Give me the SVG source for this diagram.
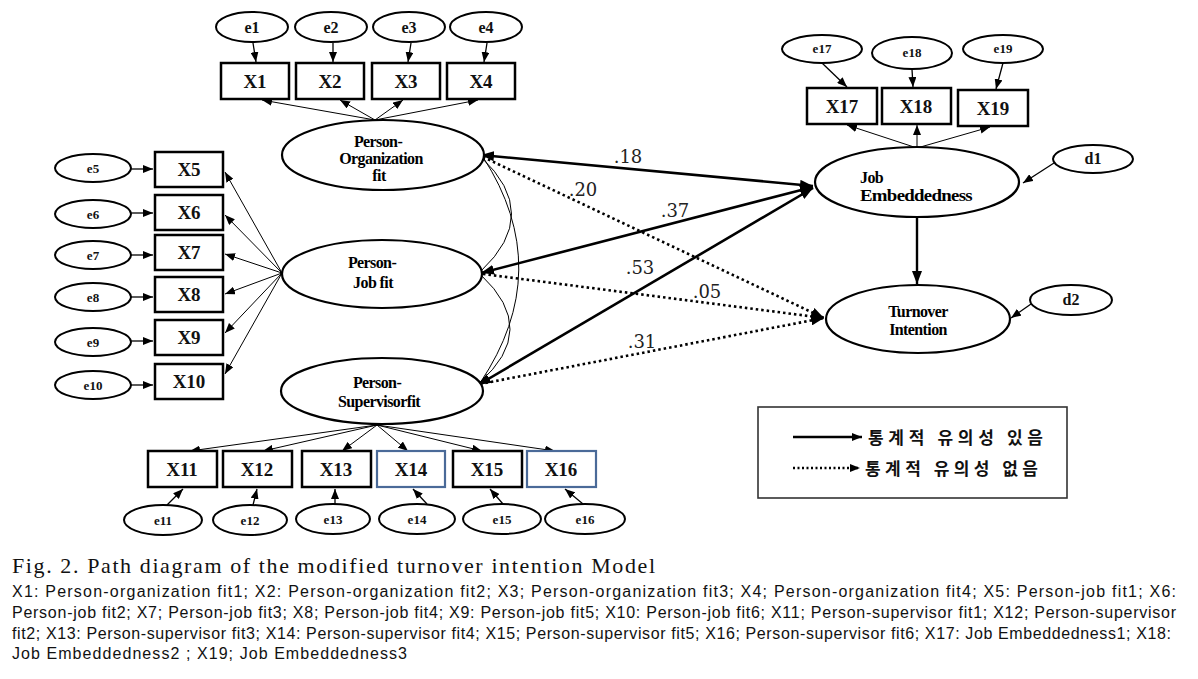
<svg xmlns="http://www.w3.org/2000/svg" width="1198" height="679" viewBox="0 0 1198 679">
<defs>
<marker id="ah" markerUnits="userSpaceOnUse" markerWidth="10" markerHeight="8" refX="10" refY="4" orient="auto-start-reverse"><path d="M0,0 L10,4 L0,8 z" fill="#000"/></marker>
<marker id="ahb" markerUnits="userSpaceOnUse" markerWidth="13" markerHeight="10" refX="13" refY="5" orient="auto-start-reverse"><path d="M0,0 L13,5 L0,10 z" fill="#000"/></marker>
<style>
.box{fill:#fff;stroke:#000;stroke-width:2.5}
.boxb{fill:#fff;stroke:#4a6a98;stroke-width:2.2}
.err{fill:#fff;stroke:#000;stroke-width:2}
.lat{fill:#fff;stroke:#000;stroke-width:2.2}
.xl{font-family:"Liberation Serif",serif;font-weight:bold;font-size:19px;text-anchor:middle;fill:#111}
.el{font-family:"Liberation Serif",serif;font-weight:bold;font-size:16px;text-anchor:middle;fill:#111}
.es{font-family:"Liberation Serif",serif;font-weight:bold;font-size:13px;text-anchor:middle;fill:#111}
.ll{font-family:"Liberation Serif",serif;font-weight:bold;font-size:16px;text-anchor:middle;fill:#000;letter-spacing:-0.6px}
.ld{stroke:#000;stroke-width:1;fill:none;marker-end:url(#ah)}
.ea{stroke:#000;stroke-width:1.3;fill:none;marker-end:url(#ah)}
.sp{stroke:#000;stroke-width:2.6;fill:none;marker-end:url(#ahb);marker-start:url(#ahb)}
.dp{stroke:#000;stroke-width:2.6;fill:none;stroke-dasharray:2.5,3;marker-end:url(#ahb)}
.cv{stroke:#000;stroke-width:1;fill:none}
.num{font-family:"DejaVu Serif",serif;font-size:18px;text-anchor:middle;fill:#222}
.kr{font-family:"Noto Sans CJK KR",sans-serif;font-weight:bold;font-size:17px;fill:#111}
.cap{font-family:"Liberation Serif",serif;font-size:22px;fill:#111}
.note{font-family:"Liberation Sans",sans-serif;font-size:16px;fill:#111}
</style>
</defs>

<g id="connectors">
<line class="ea" x1="253" y1="43" x2="256" y2="62"/>
<line class="ea" x1="333" y1="43" x2="333" y2="62"/>
<line class="ea" x1="411" y1="43" x2="408" y2="62"/>
<line class="ea" x1="487" y1="43" x2="484" y2="62"/>
<line class="ld" x1="375" y1="120" x2="262" y2="100"/>
<line class="ld" x1="375" y1="120" x2="340" y2="100"/>
<line class="ld" x1="375" y1="120" x2="403" y2="100"/>
<line class="ld" x1="375" y1="120" x2="478" y2="100"/>
<line class="ea" x1="131" y1="169" x2="153" y2="169"/>
<line class="ea" x1="131" y1="213" x2="153" y2="213"/>
<line class="ea" x1="131" y1="255" x2="153" y2="255"/>
<line class="ea" x1="131" y1="297" x2="153" y2="297"/>
<line class="ea" x1="131" y1="341" x2="153" y2="341"/>
<line class="ea" x1="131" y1="385" x2="153" y2="385"/>
<line class="ld" x1="282" y1="273" x2="225" y2="172"/>
<line class="ld" x1="282" y1="273" x2="225" y2="215"/>
<line class="ld" x1="282" y1="273" x2="225" y2="254"/>
<line class="ld" x1="282" y1="273" x2="225" y2="294"/>
<line class="ld" x1="282" y1="273" x2="225" y2="333"/>
<line class="ld" x1="282" y1="273" x2="225" y2="374"/>
<line class="ld" x1="377" y1="425" x2="190" y2="451"/>
<line class="ld" x1="377" y1="425" x2="263" y2="451"/>
<line class="ld" x1="377" y1="425" x2="342" y2="451"/>
<line class="ld" x1="377" y1="425" x2="408" y2="451"/>
<line class="ld" x1="377" y1="425" x2="482" y2="451"/>
<line class="ld" x1="377" y1="425" x2="555" y2="451"/>
<line class="ea" x1="167" y1="505" x2="183" y2="489"/>
<line class="ea" x1="253" y1="505" x2="257" y2="489"/>
<line class="ea" x1="335" y1="505" x2="335" y2="489"/>
<line class="ea" x1="427" y1="504" x2="413" y2="489"/>
<line class="ea" x1="503" y1="504" x2="490" y2="489"/>
<line class="ea" x1="583" y1="504" x2="565" y2="489"/>
<line class="ea" x1="822" y1="63" x2="847" y2="87"/>
<line class="ea" x1="912" y1="69" x2="913" y2="87"/>
<line class="ea" x1="1003" y1="63" x2="996" y2="89"/>
<line class="ld" x1="917" y1="148" x2="847" y2="125"/>
<line class="ld" x1="917" y1="148" x2="917" y2="125"/>
<line class="ld" x1="917" y1="148" x2="990" y2="127"/>
<line class="ea" x1="1054" y1="163" x2="1023" y2="183"/>
<line class="ea" x1="1031" y1="304" x2="1011" y2="318"/>
<path class="cv" d="M481,157 Q542,214 481,271"/>
<path class="cv" d="M481,275 Q540,330 479,383"/>
<path class="cv" d="M483,157 Q556,270 480,383"/>
<line class="sp" x1="481" y1="155" x2="813" y2="186"/>
<line class="sp" x1="481" y1="273" x2="813" y2="187"/>
<line class="sp" x1="478" y1="385" x2="813" y2="188"/>
<line class="dp" x1="483" y1="157" x2="824" y2="318"/>
<line class="dp" x1="483" y1="274" x2="824" y2="318"/>
<line class="dp" x1="480" y1="384" x2="824" y2="318"/>
<line x1="917" y1="217" x2="917" y2="284" stroke="#000" stroke-width="2.4" marker-end="url(#ahb)"/>
</g>

<g id="path-labels">
<text class="num" x="628" y="163">.18</text>
<text class="num" x="583" y="196">.20</text>
<text class="num" x="675" y="217">.37</text>
<text class="num" x="640" y="274">.53</text>
<text class="num" x="707" y="298">.05</text>
<text class="num" x="642" y="348">.31</text>
</g>

<g id="e1"><ellipse class="err" cx="252" cy="27" rx="36" ry="15"/><text class="el" x="252" y="33">e1</text></g>
<g id="e2"><ellipse class="err" cx="331" cy="27" rx="36" ry="15"/><text class="el" x="331" y="33">e2</text></g>
<g id="e3"><ellipse class="err" cx="409" cy="27" rx="36" ry="15"/><text class="el" x="409" y="33">e3</text></g>
<g id="e4"><ellipse class="err" cx="486" cy="27" rx="36" ry="15"/><text class="el" x="486" y="33">e4</text></g>

<g id="X1"><rect class="box" x="221" y="63" width="68" height="36"/><text class="xl" x="255" y="88">X1</text></g>
<g id="X2"><rect class="box" x="296" y="63" width="68" height="36"/><text class="xl" x="330" y="88">X2</text></g>
<g id="X3"><rect class="box" x="372" y="63" width="68" height="36"/><text class="xl" x="406" y="88">X3</text></g>
<g id="X4"><rect class="box" x="447" y="63" width="68" height="36"/><text class="xl" x="481" y="88">X4</text></g>

<g id="PO"><ellipse class="lat" cx="383" cy="155" rx="101" ry="35"/>
<text class="ll" x="378" y="147">Person-</text><text class="ll" x="381" y="164">Organization</text><text class="ll" x="379" y="181">fit</text></g>

<g id="e5"><ellipse class="err" cx="93" cy="168" rx="38" ry="14"/><text class="es" x="93" y="173">e5</text></g>
<g id="e6"><ellipse class="err" cx="93" cy="214" rx="38" ry="14"/><text class="es" x="93" y="219">e6</text></g>
<g id="e7"><ellipse class="err" cx="93" cy="255" rx="38" ry="14"/><text class="es" x="93" y="260">e7</text></g>
<g id="e8"><ellipse class="err" cx="93" cy="297" rx="38" ry="14"/><text class="es" x="93" y="302">e8</text></g>
<g id="e9"><ellipse class="err" cx="93" cy="342" rx="38" ry="14"/><text class="es" x="93" y="347">e9</text></g>
<g id="e10"><ellipse class="err" cx="93" cy="385" rx="38" ry="14"/><text class="es" x="93" y="390">e10</text></g>

<g id="X5"><rect class="box" x="155" y="152" width="68" height="35"/><text class="xl" x="189" y="176">X5</text></g>
<g id="X6"><rect class="box" x="155" y="195" width="68" height="35"/><text class="xl" x="189" y="219">X6</text></g>
<g id="X7"><rect class="box" x="155" y="235" width="68" height="35"/><text class="xl" x="189" y="259">X7</text></g>
<g id="X8"><rect class="box" x="155" y="277" width="68" height="35"/><text class="xl" x="189" y="301">X8</text></g>
<g id="X9"><rect class="box" x="155" y="320" width="68" height="35"/><text class="xl" x="189" y="344">X9</text></g>
<g id="X10"><rect class="box" x="155" y="364" width="68" height="35"/><text class="xl" x="189" y="388">X10</text></g>

<g id="PJ"><ellipse class="lat" cx="382" cy="274" rx="100" ry="34"/>
<text class="ll" x="372" y="268">Person-</text><text class="ll" x="373" y="288">Job fit</text></g>

<g id="PS"><ellipse class="lat" cx="382" cy="391" rx="101" ry="33"/>
<text class="ll" x="377" y="388">Person-</text><text class="ll" x="379" y="407">Supervisorfit</text></g>

<g id="X11"><rect class="box" x="148" y="451" width="69" height="36"/><text class="xl" x="182" y="476">X11</text></g>
<g id="X12"><rect class="box" x="223" y="451" width="69" height="36"/><text class="xl" x="257" y="476">X12</text></g>
<g id="X13"><rect class="box" x="302" y="451" width="69" height="36"/><text class="xl" x="336" y="476">X13</text></g>
<g id="X14"><rect class="boxb" x="377" y="451" width="68" height="36"/><text class="xl" x="411" y="476">X14</text></g>
<g id="X15"><rect class="box" x="453" y="451" width="69" height="36"/><text class="xl" x="487" y="476">X15</text></g>
<g id="X16"><rect class="boxb" x="527" y="451" width="69" height="36"/><text class="xl" x="561" y="476">X16</text></g>

<g id="e11"><ellipse class="err" cx="163" cy="520" rx="39" ry="15"/><text class="es" x="163" y="525">e11</text></g>
<g id="e12"><ellipse class="err" cx="250" cy="520" rx="37" ry="15"/><text class="es" x="250" y="525">e12</text></g>
<g id="e13"><ellipse class="err" cx="333" cy="519" rx="37" ry="15"/><text class="es" x="333" y="524">e13</text></g>
<g id="e14"><ellipse class="err" cx="417" cy="519" rx="38" ry="15"/><text class="es" x="417" y="524">e14</text></g>
<g id="e15"><ellipse class="err" cx="502" cy="519" rx="39" ry="15"/><text class="es" x="502" y="524">e15</text></g>
<g id="e16"><ellipse class="err" cx="585" cy="519" rx="40" ry="15"/><text class="es" x="585" y="524">e16</text></g>

<g id="e17"><ellipse class="err" cx="822" cy="49" rx="40" ry="14"/><text class="es" x="822" y="53">e17</text></g>
<g id="e18"><ellipse class="err" cx="912" cy="53" rx="40" ry="16"/><text class="es" x="912" y="57">e18</text></g>
<g id="e19"><ellipse class="err" cx="1003" cy="49" rx="40" ry="14"/><text class="es" x="1003" y="53">e19</text></g>

<g id="X17"><rect class="box" x="807" y="88" width="70" height="36"/><text class="xl" x="842" y="113">X17</text></g>
<g id="X18"><rect class="box" x="882" y="88" width="69" height="36"/><text class="xl" x="916" y="113">X18</text></g>
<g id="X19"><rect class="box" x="958" y="90" width="70" height="36"/><text class="xl" x="993" y="115">X19</text></g>

<g id="JE"><ellipse class="lat" cx="917" cy="182" rx="102" ry="35"/>
<text class="ll" x="860" y="183" style="text-anchor:start">Job</text><text class="ll" x="860" y="201" style="text-anchor:start" textLength="112" lengthAdjust="spacingAndGlyphs">Embeddedness</text></g>

<g id="d1"><ellipse class="err" cx="1093" cy="159" rx="40" ry="14"/><text class="el" x="1093" y="164">d1</text></g>

<g id="TI"><ellipse class="lat" cx="918" cy="319" rx="92" ry="34"/>
<text class="ll" x="918" y="317">Turnover</text><text class="ll" x="918" y="335">Intention</text></g>

<g id="d2"><ellipse class="err" cx="1071" cy="300" rx="41" ry="15"/><text class="el" x="1071" y="305">d2</text></g>

<g id="legend">
<rect x="758" y="407" width="309" height="91" fill="#fff" stroke="#333" stroke-width="1.6"/>
<line x1="793" y1="437" x2="862" y2="437" stroke="#000" stroke-width="2.4" marker-end="url(#ah)"/>
<text class="kr" x="868" y="444" textLength="175" lengthAdjust="spacing">통계적 유의성 있음</text>
<line x1="793" y1="468" x2="860" y2="468" stroke="#000" stroke-width="2.4" stroke-dasharray="2,2.5" marker-end="url(#ah)"/>
<text class="kr" x="865" y="475" textLength="173" lengthAdjust="spacing">통계적 유의성 없음</text>
</g>

<g id="caption">
<text class="cap" x="12" y="573" textLength="643" lengthAdjust="spacing">Fig. 2. Path diagram of the modified turnover intention Model</text>
<text class="note" x="12" y="597" textLength="1164" lengthAdjust="spacing">X1: Person-organization fit1; X2: Person-organization fit2; X3; Person-organization fit3; X4; Person-organization fit4; X5: Person-job fit1; X6:</text>
<text class="note" x="12" y="618" textLength="1164" lengthAdjust="spacing">Person-job fit2; X7; Person-job fit3; X8; Person-job fit4; X9: Person-job fit5; X10: Person-job fit6; X11; Person-supervisor fit1; X12; Person-supervisor</text>
<text class="note" x="12" y="639" textLength="1159" lengthAdjust="spacing">fit2; X13: Person-supervisor fit3; X14: Person-supervisor fit4; X15; Person-supervisor fit5; X16; Person-supervisor fit6; X17: Job Embeddedness1; X18:</text>
<text class="note" x="12" y="659" textLength="395" lengthAdjust="spacing">Job Embeddedness2 ; X19; Job Embeddedness3</text>
</g>
</svg>
